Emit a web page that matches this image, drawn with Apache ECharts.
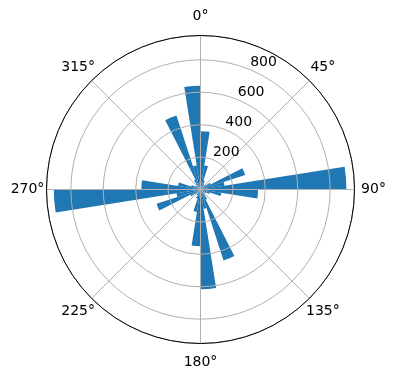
<!DOCTYPE html>
<html>
<head>
<meta charset="utf-8">
<script src="https://cdn.jsdelivr.net/npm/echarts@6/dist/echarts.min.js"></script>
<style>
html, body { margin: 0; padding: 0; background: #fff; }
#main { width: 396px; height: 380px; }
</style>
</head>
<body>
<div id="main"></div>
<script>
// 40 direction bins, 9 degrees each (bin start angle)
var binStarts = ['0', '9', '18', '27', '36', '45', '54', '63', '72', '81',
    '90', '99', '108', '117', '126', '135', '144', '153', '162', '171',
    '180', '189', '198', '207', '216', '225', '234', '243', '252', '261',
    '270', '279', '288', '297', '306', '315', '324', '333', '342', '351'];
var counts = [360, 150, 60, 40, 30, 40, 70, 290, 150, 900,
    355, 130, 60, 40, 30, 40, 70, 460, 120, 615,
    350, 140, 60, 40, 30, 40, 70, 285, 150, 905,
    365, 140, 60, 40, 30, 40, 70, 480, 150, 640];
var angleTickValues = [0, 45, 90, 135, 180, 225, 270, 315];
var angleTicks = ['0°', '45°', '90°', '135°', '180°', '225°', '270°', '315°'];
var radiusTicks = ['200', '400', '600', '800'];
var rMax = 950;

(function () {
    var myChart = echarts.init(document.getElementById('main'));
    var ctr = [200.5, 189.5];
    var font = 'DejaVu Sans';
    myChart.setOption({
        animation: false,
        polar: [
            {center: ctr, radius: 154},
            {center: ctr, radius: 154},
            {center: ctr, radius: 154},
            {center: ctr, radius: 173}   // ring where the degree labels sit
        ],
        angleAxis: [
            {   // grid + outer circle
                polarIndex: 0, type: 'value', min: 0, max: 360, interval: 45,
                startAngle: 90, clockwise: true, z: 5,
                axisLine: {lineStyle: {color: '#000', width: 1}},
                axisTick: {show: false},
                axisLabel: {show: false},
                splitLine: {lineStyle: {color: '#b0b0b0', width: 1}}
            },
            {   // bars
                polarIndex: 1, type: 'category', data: binStarts,
                startAngle: 90, clockwise: true, boundaryGap: true, show: false
            },
            {   // radial tick labels at 22.5°
                polarIndex: 2, type: 'value', min: 0, max: 360,
                startAngle: 67.5, show: false
            },
            {
                polarIndex: 3, type: 'value', min: 0, max: 360,
                startAngle: 90, clockwise: true, show: false
            }
        ],
        radiusAxis: [
            {
                polarIndex: 0, type: 'value', min: 0, max: rMax, interval: 200, z: 5,
                axisLine: {show: false}, axisTick: {show: false}, axisLabel: {show: false},
                splitLine: {lineStyle: {color: '#b0b0b0', width: 1}}
            },
            {polarIndex: 1, type: 'value', min: 0, max: rMax, show: false},
            {
                polarIndex: 2, type: 'value', min: 0, max: rMax, interval: 200, z: 6,
                axisLine: {show: false}, axisTick: {show: false}, splitLine: {show: false},
                axisLabel: {
                    color: '#000', fontFamily: font, fontSize: 14, margin: 0,
                    align: 'left', verticalAlign: 'bottom',
                    formatter: function (v) { return v === 0 ? '' : radiusTicks[v / 200 - 1]; }
                }
            },
            {polarIndex: 3, type: 'value', min: 0, max: 1, show: false}
        ],
        series: [{
            type: 'bar', coordinateSystem: 'polar', polarIndex: 1, z: 1,
            data: counts, barCategoryGap: '0%',
            itemStyle: {color: '#1f77b4'}
        }, {
            // degree labels, centred on a ring just outside the plot
            type: 'scatter', coordinateSystem: 'polar', polarIndex: 3,
            symbolSize: 0, clip: false, silent: true,
            itemStyle: {opacity: 1},
            data: angleTickValues.map(function (a, i) { return {value: [1, a], name: angleTicks[i]}; }),
            label: {
                show: true, position: 'inside', formatter: '{b}',
                color: '#000', fontFamily: font, fontSize: 14,
                textBorderWidth: 0,
                align: 'center', verticalAlign: 'middle'
            }
        }]
    });
})();
</script>
</body>
</html>
